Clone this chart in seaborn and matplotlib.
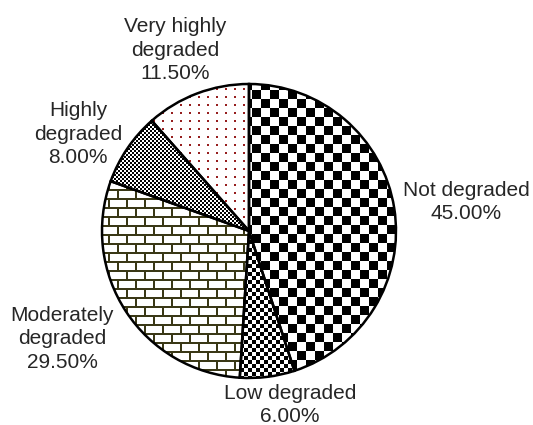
import numpy as np
import matplotlib
matplotlib.use("Agg")
import matplotlib.pyplot as plt
import seaborn as sns

# Land degradation classes and their shares (%)
categories = ["Not degraded", "Low degraded", "Moderately degraded",
              "Highly degraded", "Very highly degraded"]
shares = [45.0, 6.0, 29.5, 8.0, 11.5]
label_text = ["Not degraded", "Low degraded", "Moderately\ndegraded",
              "Highly\ndegraded", "Very highly\ndegraded"]

sns.set_theme(style="white")
plt.rcParams["font.family"] = ["Liberation Sans", "DejaVu Sans"]

W, H = 533, 425
fig = plt.figure(figsize=(W / 100, H / 100), dpi=100)
ax = fig.add_axes([0, 0, 1, 1])

center = (249, H - 231)
radius = 147
wedges, _ = ax.pie(shares, startangle=90, counterclock=False, center=center,
                   radius=radius, colors=["white"] * len(shares),
                   wedgeprops=dict(edgecolor="black", linewidth=1.8),
                   frame=True)

# Pixel grid (row 0 = top) used to build the fill textures
yy, xx = np.mgrid[0:H, 0:W]


def rgb(mask_on, on, off=(255, 255, 255)):
    img = np.empty((H, W, 3), dtype=np.uint8)
    img[:] = off
    img[mask_on] = on
    return img


black = (0, 0, 0)
big_checker = rgb(((xx // 9 + yy // 9) % 2) == 0, black)
small_checker = rgb(((xx // 4 + yy // 4) % 2) == 0, black)
fine_checker = rgb(((xx // 2 + yy // 2) % 2) == 0, black)

row = yy // 9
shift = (row % 2) * 9
brick_mask = ((yy % 9) < 2) | (((xx + shift) % 18) < 2)
brick = rgb(brick_mask, (58, 56, 22))

dots_mask = ((xx % 9) < 2) & ((yy % 8) < 2)
dots = rgb(dots_mask, (150, 30, 30))

textures = [big_checker, small_checker, brick, fine_checker, dots]

for w, tex in zip(wedges, textures):
    im = ax.imshow(tex, extent=(0, W, 0, H), origin="upper",
                   interpolation="none", aspect="auto", zorder=2)
    im.set_clip_path(w)
    w.set_facecolor("none")
    w.set_zorder(5)

ax.set_xlim(0, W)
ax.set_ylim(0, H)
ax.set_aspect("auto")
ax.axis("off")

# Label block centres in pixel coordinates (from the top-left corner)
label_xy = [(466, 202), (290, 405), (62, 339), (78, 134), (175, 50)]
for txt, v, (lx, ly) in zip(label_text, shares, label_xy):
    ax.text(lx, H - ly, f"{txt}\n{v:.2f}%", ha="center", va="center",
            multialignment="center", fontsize=15, color="#262626",
            linespacing=1.3, zorder=6)

fig.savefig("out.png", dpi=100)
